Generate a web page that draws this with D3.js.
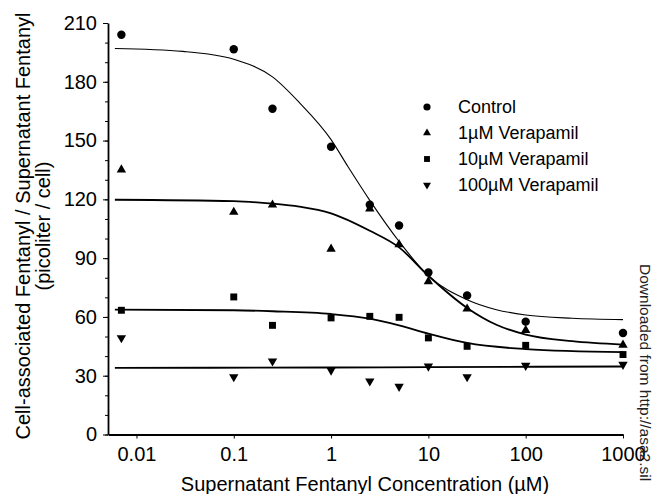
<!DOCTYPE html>
<html>
<head>
<meta charset="utf-8">
<script src="https://d3js.org/d3.v7.min.js"></script>
<style>
  body { margin: 0; background: #fff; }
  text { font-family: Arial, "Liberation Sans", Helvetica, sans-serif; fill: #000; }
</style>
</head>
<body>
<svg id="chart" width="655" height="494"></svg>
<script>

// Concentrations of supernatant fentanyl (µM)
var conc = [0.007, 0.1, 0.25, 1, 2.5, 5, 10, 25, 100, 1000];

// Measured ratios (picoliter / cell)
var control    = [204, 196.6, 166.2, 146.8, 117.2, 106.7, 82.7, 70.9, 57.6, 51.8];
var vera1      = [135.1, 113.5, 117.2, 94.7, 115.2, 97.0, 78.1, 64.1, 53.2, 45.7];
var vera10     = [63.4, 70.2, 55.7, 59.5, 60.3, 59.8, 49.3, 45.0, 45.5, 40.8];
var vera100    = [49.3, 29.4, 37.4, 32.8, 27.2, 24.5, 34.8, 29.4, 35.2, 35.7];

// Fitted curves
var fitConcControl = [0.006, 0.03, 0.1, 0.25, 0.47, 1, 1.5, 2.5, 5, 10, 25, 50, 100, 300, 1000];
var fitControl     = [197, 195.5, 191.5, 182.5, 169.5, 150.5, 136.5, 119.5, 98.5, 81, 68.8, 63.7, 61, 59.3, 58.6];
var fitConc1       = [0.006, 0.1, 0.25, 0.47, 1, 2.5, 5, 10, 25, 50, 100, 300, 1000];
var fit1           = [119.8, 119.1, 117.8, 116.3, 112.9, 104, 95.5, 81, 64.6, 56, 51, 47.6, 45.9];
var fitConc10      = [0.006, 0.1, 0.25, 1, 2.5, 5, 10, 25, 100, 1000];
var fit10          = [63.7, 63.4, 62.9, 61.5, 59.1, 55.7, 51.5, 46.7, 43.6, 42.0];
var fitConc100     = [0.006, 1, 10, 1000];
var fit100         = [34.0, 34.2, 34.4, 34.7];

var seriesNames = ["Control", "1\u00b5M Verapamil", "10\u00b5M Verapamil", "100\u00b5M Verapamil"];
var yTicks = [0, 30, 60, 90, 120, 150, 180, 210];
var xTicks = [0.01, 0.1, 1, 10, 100, 1000];
var xTickLabels = ["0.01", "0.1", "1", "10", "100", "1000"];

var svg = d3.select("#chart");

// echelles
var x = d3.scaleLog().domain([0.0051, 1000]).range([108, 623]);
var y = d3.scaleLinear().domain([0, 210]).range([434.5, 23]);

// axe des ordonnees (minor ticks every 10)
svg.append("g")
  .attr("transform", "translate(108,0)")
  .call(d3.axisLeft(y).tickValues(d3.range(0, 211, 10)).tickSize(3).tickFormat(""))
  .call(function(g) { g.select(".domain").remove(); });
svg.append("g")
  .attr("class", "yaxis")
  .attr("transform", "translate(108,0)")
  .call(d3.axisLeft(y).tickValues(yTicks).tickSize(5).tickPadding(6).tickSizeOuter(0))
  .call(function(g) {
    g.select(".domain").attr("stroke-width", 1.8);
    g.selectAll("text").style("font-size", "20px");
  });

// axe des abscisses
svg.append("g")
  .attr("transform", "translate(0,434.5)")
  .call(d3.axisBottom(x).tickValues(xTicks).tickSize(4).tickPadding(8).tickSizeOuter(0)
    .tickFormat(function(d, i) { return xTickLabels[i]; }))
  .call(function(g) {
    g.select(".domain").attr("stroke-width", 1.8);
    g.selectAll("text").style("font-size", "20px");
  });

// titres des axes
svg.append("text")
  .attr("transform", "translate(29.5,226) rotate(-90)")
  .attr("text-anchor", "middle")
  .style("font-size", "20px")
  .text("Cell-associated Fentanyl / Supernatant Fentanyl");
svg.append("text")
  .attr("transform", "translate(50,226) rotate(-90)")
  .attr("text-anchor", "middle")
  .style("font-size", "20px")
  .text("(picoliter / cell)");
svg.append("text")
  .attr("x", 365)
  .attr("y", 491)
  .attr("text-anchor", "middle")
  .style("font-size", "20px")
  .text("Supernatant Fentanyl Concentration (\u00b5M)");

// courbes
var line = d3.line()
  .x(function(d) { return x(d[0]); })
  .y(function(d) { return y(d[1]); })
  .curve(d3.curveMonotoneX);

var fits = [
  { xs: fitConcControl, ys: fitControl, w: 1.1 },
  { xs: fitConc1, ys: fit1, w: 1.8 },
  { xs: fitConc10, ys: fit10, w: 1.8 },
  { xs: fitConc100, ys: fit100, w: 1.8 }
];
svg.append("g").selectAll("path")
  .data(fits)
  .enter().append("path")
    .attr("fill", "none")
    .attr("stroke", "#000")
    .attr("stroke-width", function(d) { return d.w; })
    .attr("d", function(d) { return line(d.xs.map(function(c, i) { return [c, d.ys[i]]; })); });

// symboles
var symbols = [
  d3.symbol().type(d3.symbolCircle).size(56)(),
  d3.symbol().type(d3.symbolTriangle).size(38)(),
  d3.symbol().type(d3.symbolSquare).size(48)(),
  d3.symbol().type(d3.symbolTriangle).size(38)()
];
var rotations = [0, 0, 0, 180];
var series = [control, vera1, vera10, vera100];

series.forEach(function(vals, s) {
  svg.append("g").selectAll("path")
    .data(vals)
    .enter().append("path")
      .attr("d", symbols[s])
      .attr("fill", "#000")
      .attr("transform", function(d, i) {
        return "translate(" + x(conc[i]) + "," + y(d) + ") rotate(" + rotations[s] + ")";
      });
});

// legende
var legend = svg.append("g").selectAll("g")
  .data(seriesNames)
  .enter().append("g")
    .attr("transform", function(d, i) { return "translate(427," + (107 + i * 26) + ")"; });
legend.append("path")
  .attr("d", function(d, i) { return symbols[i]; })
  .attr("fill", "#000")
  .attr("transform", function(d, i) { return "rotate(" + rotations[i] + ") scale(0.85)"; });
legend.append("text")
  .attr("x", 31)
  .attr("dy", "0.35em")
  .style("font-size", "18px")
  .text(function(d) { return d; });

// filigrane
svg.append("text")
  .attr("transform", "translate(640,264) rotate(90)")
  .style("font-size", "15.5px")
  .style("fill", "#222")
  .text("Downloaded from http://asa2.sil");

</script>
</body>
</html>
